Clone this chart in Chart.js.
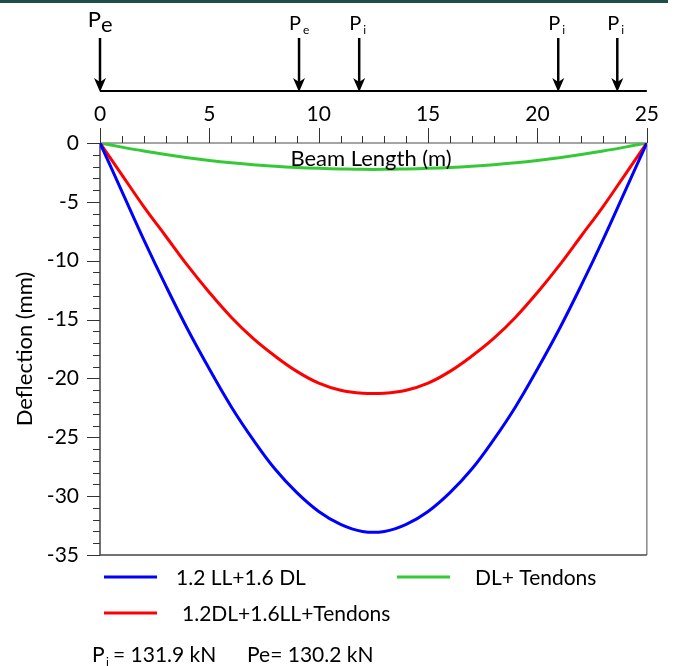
<!DOCTYPE html>
<html>
<head>
<meta charset="utf-8">
<script src="https://cdn.jsdelivr.net/npm/chart.js@4"></script>
<style>
  html, body { margin: 0; padding: 0; background: #fff; }
  canvas { display: block; }
</style>
</head>
<body>
<canvas id="canvas" width="675" height="666"></canvas>
<script>
// positions along the beam (m)
var beamLength = [0, 1, 2, 3, 4, 5, 6, 7, 8, 9, 10, 11, 12, 13, 14, 15, 16, 17, 18, 19, 20, 21, 22, 23, 24, 25];

// deflections (mm) for each load case
var ultimate = [0, -4.1, -8.2, -12.1, -15.8, -19.2, -22.4, -25.2, -27.7, -29.7, -31.3, -32.4, -33.0,
                -33.0, -32.4, -31.3, -29.7, -27.7, -25.2, -22.4, -19.2, -15.8, -12.1, -8.2, -4.1, 0];
var ultimateTendons = [0, -2.7, -5.4, -7.9, -10.4, -12.7, -14.8, -16.6, -18.1, -19.4, -20.4, -21.0, -21.25,
                       -21.25, -21.0, -20.4, -19.4, -18.1, -16.6, -14.8, -12.7, -10.4, -7.9, -5.4, -2.7, 0];
var deadTendons = [0, -0.35, -0.68, -0.98, -1.25, -1.48, -1.68, -1.85, -1.98, -2.08, -2.15, -2.2, -2.24,
                   -2.24, -2.2, -2.15, -2.08, -1.98, -1.85, -1.68, -1.48, -1.25, -0.98, -0.68, -0.35, 0];

// prestress forces applied on the beam (m) and their subscript
var forcePos = [0, 9.1, 11.85, 20.95, 23.65];
var forceSub = ['e', 'e', 'i', 'i', 'i'];

var yTicks = [0, -5, -10, -15, -20, -25, -30, -35];

var police = 'Lato, "Open Sans", sans-serif';

function points(vals) {
  var res = [];
  for (var k = 0; k < beamLength.length; k++) {
    res.push({x: beamLength[k], y: vals[k]});
  }
  return res;
}

function fleche(ctx, x, yHaut, yBas) {
  // shaft + filled head
  ctx.strokeStyle = '#000';
  ctx.fillStyle = '#000';
  ctx.lineWidth = 2.5;
  ctx.beginPath();
  ctx.moveTo(x, yHaut);
  ctx.lineTo(x, yBas - 8);
  ctx.stroke();
  ctx.beginPath();
  ctx.moveTo(x - 6, yBas - 14);
  ctx.lineTo(x, yBas - 10);
  ctx.lineTo(x + 6, yBas - 14);
  ctx.lineTo(x, yBas);
  ctx.closePath();
  ctx.fill();
}

var decor = {
  id: 'decor',
  beforeDatasetsDraw: function(chart) {
    var ctx = chart.ctx, a = chart.chartArea;
    var sx = chart.scales.x, sy = chart.scales.y;
    ctx.save();
    // frame
    ctx.lineWidth = 1.5;
    ctx.strokeStyle = '#888';
    ctx.beginPath();
    ctx.moveTo(a.left, a.top); ctx.lineTo(a.right, a.top);
    ctx.moveTo(a.right, a.top); ctx.lineTo(a.right, a.bottom);
    ctx.stroke();
    ctx.strokeStyle = '#444';
    ctx.beginPath();
    ctx.moveTo(a.left, a.top); ctx.lineTo(a.left, a.bottom);
    ctx.lineTo(a.right, a.bottom);
    ctx.stroke();

    // ticks on the beam axis (top)
    ctx.lineWidth = 1;
    ctx.strokeStyle = '#333';
    for (var m = 0; m <= 25; m++) {
      var px = Math.round(sx.getPixelForValue(m)) + 0.5;
      var len = (m % 5 === 0) ? 15 : 7;
      ctx.beginPath();
      ctx.moveTo(px, a.top);
      ctx.lineTo(px, a.top - len);
      ctx.stroke();
    }
    // ticks on the deflection axis
    for (var d = 0; d >= -35; d--) {
      var py = Math.round(sy.getPixelForValue(d)) + 0.5;
      var l2 = (d % 5 === 0) ? 13 : 7;
      ctx.beginPath();
      ctx.moveTo(a.left, py);
      ctx.lineTo(a.left - l2, py);
      ctx.stroke();
    }
    ctx.restore();
  },
  afterDraw: function(chart) {
    var ctx = chart.ctx, a = chart.chartArea;
    var sx = chart.scales.x;
    ctx.save();

    // band at the top of the figure
    ctx.fillStyle = '#1e4d4a';
    ctx.fillRect(0, 0, 668, 3);

    // beam with the prestress forces
    var yBeam = 91;
    ctx.strokeStyle = '#000';
    ctx.lineWidth = 2;
    ctx.beginPath();
    ctx.moveTo(sx.getPixelForValue(0), yBeam);
    ctx.lineTo(sx.getPixelForValue(25), yBeam);
    ctx.stroke();

    for (var i = 0; i < forcePos.length; i++) {
      var fx = sx.getPixelForValue(forcePos[i]);
      fleche(ctx, fx, 38, yBeam + 1);
      ctx.fillStyle = '#000';
      ctx.textBaseline = 'alphabetic';
      ctx.textAlign = 'right';
      if (i === 0) {
        ctx.font = '22px ' + police;
        ctx.fillText('P', fx + 1, 27);
        ctx.textAlign = 'left';
        ctx.font = '22px ' + police;
        ctx.fillText(forceSub[i], fx + 1, 32);
      } else {
        ctx.font = '20px ' + police;
        ctx.fillText('P', fx + 2, 30);
        ctx.textAlign = 'left';
        ctx.font = '12px ' + police;
        ctx.fillText(forceSub[i], fx + 4, 34);
      }
    }

    // axis name for the beam, drawn inside the plot
    ctx.font = '22px ' + police;
    ctx.textAlign = 'center';
    ctx.textBaseline = 'middle';
    ctx.fillStyle = '#000';
    ctx.fillText('Beam Length (m)', 371, 159);

    // legend
    var places = [{x: 104, y: 577, t: 176}, {x: 104, y: 613, t: 182}, {x: 397, y: 577, t: 475}];
    chart.data.datasets.forEach(function(ds, k) {
      var p = places[k];
      ctx.strokeStyle = ds.borderColor;
      ctx.lineWidth = 3;
      ctx.beginPath();
      ctx.moveTo(p.x, p.y);
      ctx.lineTo(p.x + 53, p.y);
      ctx.stroke();
      ctx.fillStyle = '#000';
      ctx.font = '21px ' + police;
      ctx.textAlign = 'left';
      ctx.textBaseline = 'middle';
      ctx.fillText(ds.label, p.t, p.y + 1);
    });

    // forces
    ctx.textBaseline = 'alphabetic';
    ctx.font = '21px ' + police;
    ctx.fillText('P', 92, 662);
    ctx.font = '12px ' + police;
    ctx.fillText('i', 106, 666);
    ctx.font = '21px ' + police;
    ctx.fillText('= 131.9 kN', 113, 662);
    ctx.fillText('Pe= 130.2 kN', 247, 662);
    ctx.restore();
  }
};

var monGraphe = new Chart(document.getElementById('canvas'), {
  type: 'line',
  data: {
    datasets: [{
      label: '1.2 LL+1.6 DL',
      data: points(ultimate),
      borderColor: '#0000ff'
    }, {
      label: '1.2DL+1.6LL+Tendons',
      data: points(ultimateTendons),
      borderColor: '#ff0000'
    }, {
      label: 'DL+ Tendons',
      data: points(deadTendons),
      borderColor: '#36c936'
    }]
  },
  options: {
    responsive: false,
    animation: false,
    layout: { padding: { left: 0, top: 0, right: 23, bottom: 111 } },
    plugins: { legend: { display: false }, tooltip: { enabled: false } },
    elements: {
      point: { radius: 0 },
      line: { borderWidth: 3, tension: 0.4, fill: false }
    },
    scales: {
      x: {
        type: 'linear',
        position: 'top',
        min: 0,
        max: 25,
        ticks: { stepSize: 5, padding: 16, color: '#000', font: { family: police, size: 21 } },
        grid: { display: false, drawTicks: false, tickLength: 0 },
        border: { display: false },
        afterFit: function(s) { s.height = 143; }
      },
      y: {
        min: -35,
        max: 0,
        afterBuildTicks: function(s) { s.ticks = yTicks.map(function(v) { return {value: v}; }); },
        ticks: { padding: 21, color: '#000', font: { family: police, size: 21 } },
        grid: { display: false, drawTicks: false, tickLength: 0 },
        border: { display: false },
        title: { display: true, text: 'Deflection (mm)', color: '#000', font: { family: police, size: 22 }, padding: { top: 12 } },
        afterFit: function(s) { s.width = 100; }
      }
    }
  },
  plugins: [decor]
});
</script>
</body>
</html>
